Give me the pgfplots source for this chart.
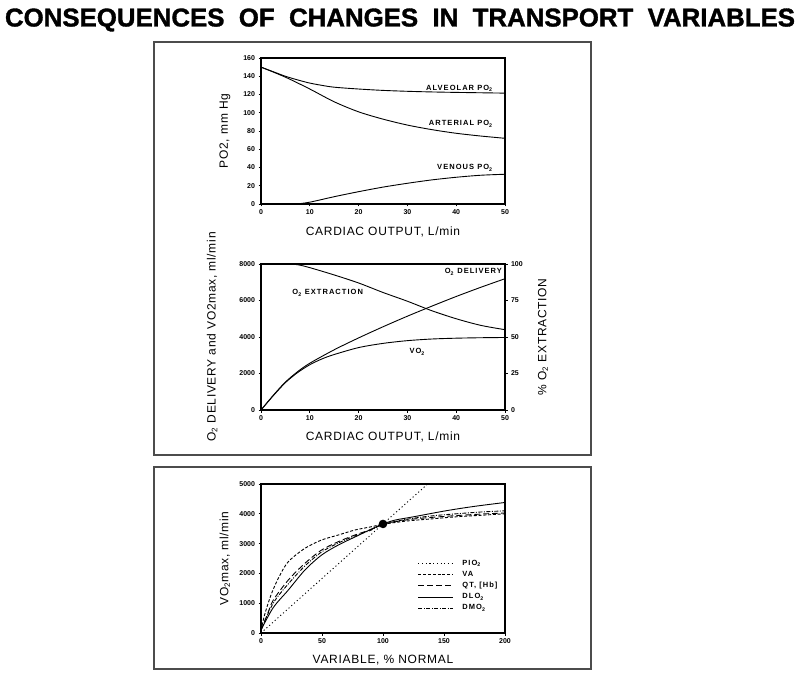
\documentclass[border=0pt]{standalone}
\usepackage{pgfplots}
\pgfplotsset{compat=1.18}
\usepackage{fontspec}
\setmainfont{Liberation Sans}
\newfontfamily\lblfont[LetterSpace=14]{Liberation Sans}
\newfontfamily\axfont[LetterSpace=6]{Liberation Sans}
\newfontfamily\titlefont[BoldFeatures={FakeBold=1.3}]{Liberation Sans}
\pgfplotsset{
  base/.style={
    scale only axis, width=244pt,
    tick align=outside, xtick pos=left, ytick pos=left,
    axis line style={line width=1.1pt, black},
    tick style={line width=0.8pt, black},
    major tick length=2.5pt,
    ticklabel style={font=\fontsize{7}{8}\selectfont\bfseries},
    /pgf/number format/assume math mode=true,
    /pgf/number format/1000 sep={},
    label style={font=\fontsize{12}{14}\selectfont\axfont},
    every axis plot/.append style={line width=0.9pt, black},
  },
}
\tikzset{lbl/.style={font=\fontsize{7.5}{8}\selectfont\lblfont\bfseries, inner sep=0pt}}
\begin{document}
\begin{tikzpicture}[x=1pt,y=1pt]
\useasboundingbox (0,0) rectangle (800,686);
\node at (400,666) {\resizebox{790pt}{18pt}{\titlefont\bfseries CONSEQUENCES\ \ OF\ \ CHANGES\ \ IN\ \ TRANSPORT\ \ VARIABLES}};
\draw[line width=1.4pt, black!70] (154,231) rectangle (591,644);
\draw[line width=1.4pt, black!70] (154,17) rectangle (591,219);

% ---------- top panel ----------
\begin{axis}[base, at={(261pt,482pt)}, anchor=south west, height=146pt,
  xmin=0, xmax=50, ymin=0, ymax=160,
  xtick={0,10,...,50}, ytick={0,20,...,160},
  xlabel={CARDIAC OUTPUT, L/min}, ylabel={PO2, mm Hg},
  xlabel style={at={(axis description cs:0.5,-0.19)}, anchor=center},
  ylabel style={at={(axis description cs:-0.148,0.5)}, anchor=center},
]
\addplot[smooth] coordinates {(0,150)(2.5,145)(5,140)(7.5,136)(10,132.5)(12.5,130)(15,128)(20,126)(25,124.5)(30,123.5)(35,122.8)(40,122.3)(50,121.5)};
\addplot[smooth] coordinates {(0,150)(5,139)(10,126)(15,112)(20,101)(25,93)(30,86.5)(35,81.5)(40,77.5)(45,74.5)(50,72)};
\addplot[smooth] coordinates {(7.3,0)(10,2)(15,8)(20,13.5)(25,18.5)(30,22.7)(35,26.4)(40,29.3)(45,31.5)(50,32.6)};
\node[lbl, anchor=east] at (axis cs:47.5,127) {ALVEOLAR PO\textsubscript{2}};
\node[lbl, anchor=east] at (axis cs:47.5,87.7) {ARTERIAL PO\textsubscript{2}};
\node[lbl, anchor=east] at (axis cs:47.5,39.5) {VENOUS PO\textsubscript{2}};
\end{axis}

% ---------- middle panel ----------
\begin{axis}[base, at={(261pt,276pt)}, anchor=south west, height=146pt,
  xmin=0, xmax=50, ymin=0, ymax=8000,
  xtick={0,10,...,50}, ytick={0,2000,...,8000},
  scaled y ticks=false,
  xlabel={CARDIAC OUTPUT, L/min}, ylabel={O\textsubscript{2} DELIVERY and VO2max, ml/min},
  xlabel style={at={(axis description cs:0.5,-0.185)}, anchor=center},
  ylabel style={at={(axis description cs:-0.2,0.5)}, anchor=center},
]
\addplot[smooth] coordinates {(0,0)(2.5,800)(5,1530)(7.5,2100)(10,2563)(15,3300)(20,3950)(25,4560)(30,5140)(35,5690)(40,6220)(45,6720)(50,7194)};
\addplot[smooth] coordinates {(0,0)(2.5,780)(5,1500)(7.5,2050)(10,2480)(12.5,2800)(15,3040)(20,3420)(25,3650)(30,3800)(35,3890)(40,3935)(45,3960)(50,3973)};
\node[lbl, anchor=east] at (axis cs:49.4,7562) {O\textsubscript{2} DELIVERY};
\node[lbl, anchor=west] at (axis cs:6.4,6411) {O\textsubscript{2} EXTRACTION};
\node[lbl] at (axis cs:32,3178) {VO\textsubscript{2}};
\end{axis}
\begin{axis}[base, at={(261pt,276pt)}, anchor=south west, height=146pt,
  xmin=0, xmax=50, ymin=0, ymax=100,
  axis x line=none, axis y line*=right, ytick pos=right,
  ytick={0,25,...,100},
  ylabel={\% O\textsubscript{2} EXTRACTION},
  ylabel style={at={(axis description cs:1.156,0.5)}, anchor=center},
]
\addplot[smooth] coordinates {(0,100)(5,100)(7.5,99.5)(10,97.5)(15,92.5)(20,87)(25,80.5)(30,74.5)(35,68)(40,62.5)(45,58)(50,55)};
\end{axis}

% ---------- bottom panel ----------
\begin{axis}[base, at={(261pt,53pt)}, anchor=south west, height=149pt,
  xmin=0, xmax=200, ymin=0, ymax=5000,
  xtick={0,50,...,200}, ytick={0,1000,...,5000},
  scaled y ticks=false,
  xlabel={VARIABLE, \% NORMAL}, ylabel={VO\textsubscript{2}max, ml/min},
  xlabel style={at={(axis description cs:0.5,-0.18)}, anchor=center},
  ylabel style={at={(axis description cs:-0.148,0.5)}, anchor=center},
  legend style={at={(rel axis cs:0.63,0.515)}, anchor=north west, draw=none, fill=none,
    font=\fontsize{7.5}{8}\selectfont\lblfont\bfseries, row sep=1.2pt, nodes={inner sep=1.6pt},
    /tikz/every odd column/.append style={column sep=7pt}},
  legend cell align=left,
  legend image code/.code={\draw[#1] (0pt,0pt) -- (35pt,0pt);},
]
\addplot[line width=0.9pt, dash pattern=on 1.1pt off 2.6pt] coordinates {(0,0)(136.6,5000)};
\addlegendentry{PIO\textsubscript{2}}
\addplot[smooth, dash pattern=on 3pt off 1.8pt] coordinates {(0,100)(3.3,660)(8.7,1332)(15,1900)(22.4,2393)(36,2842)(49.7,3121)(63.4,3289)(77,3456)(90.7,3567)(100,3650)(120,3760)(140,3830)(160,3900)(180,3950)(200,4000)};
\addlegendentry{VA}
\addplot[smooth, dash pattern=on 6pt off 3pt] coordinates {(0,100)(5,600)(10,1100)(22.4,1779)(36,2339)(49.7,2785)(63.4,3065)(77,3289)(90.7,3478)(100,3650)(120,3800)(140,3880)(160,3940)(180,3990)(200,4030)};
\addlegendentry{QT, [Hb]}
\addplot[smooth] coordinates {(0,100)(10,850)(22.4,1443)(36,2114)(49.7,2617)(63.4,2953)(80,3280)(90,3480)(100,3660)(110,3790)(125,3900)(152,4105)(175,4250)(200,4380)};
\addlegendentry{DLO\textsubscript{2}}
\addplot[smooth, dash pattern=on 4pt off 1.5pt on 1pt off 1.5pt] coordinates {(0,100)(10,1000)(22.4,1650)(36,2250)(49.7,2720)(63.4,3020)(77,3260)(90.7,3460)(100,3650)(120,3820)(140,3930)(160,4000)(180,4060)(200,4100)};
\addlegendentry{DMO\textsubscript{2}}
\addplot[only marks, mark=*, mark size=3.8pt, forget plot] coordinates {(100,3660)};
\end{axis}
\end{tikzpicture}
\end{document}
